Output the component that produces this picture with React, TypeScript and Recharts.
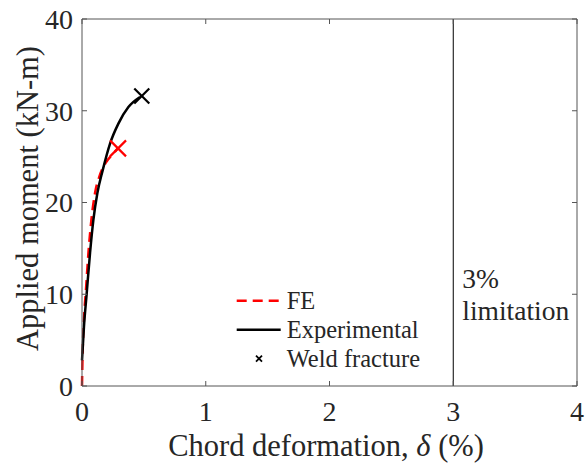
import React from 'react';
import {
  ComposedChart,
  Line,
  Scatter,
  XAxis,
  YAxis,
  ReferenceLine,
  Legend,
} from 'recharts';

// FE model curve (chord deformation %, moment kN-m)
const feDelta = [0, 0.004, 0.015, 0.032, 0.052, 0.075, 0.105, 0.145, 0.2, 0.25, 0.29];
const feMoment = [0, 3, 7, 10.5, 14.5, 18, 21, 23, 24.5, 25.3, 25.9];

// experimental curve
const expDelta = [0, 0.016, 0.038, 0.065, 0.092, 0.124, 0.167, 0.226, 0.294, 0.375, 0.469];
const expMoment = [2.8, 6.5, 10.1, 14.5, 18.1, 21.0, 23.5, 26.4, 28.6, 30.4, 31.5];

// weld fracture points
const feFracture = [{ x: 0.291, y: 25.9 }];
const expFracture = [{ x: 0.483, y: 31.6 }];

const xTicks = [0, 1, 2, 3, 4];
const yTicks = [0, 10, 20, 30, 40];
const limitValue = 3;
const limitText = ['3%', 'limitation'];
const legendOrder = ['FE', 'Experimental', 'Weld fracture'];

const feData = feDelta.map((x, i) => ({ x, y: feMoment[i] }));
const expData = expDelta.map((x, i) => ({ x, y: expMoment[i] }));

const X_MAX = 4;
const Y_MAX = 40;
const TOP = 19;

const FONT = '"Liberation Serif", "Times New Roman", serif';
const AXIS = '#555555';
const TEXT = '#262626';

const xMark = (half: number, color: string, width: number) => (props: any) => {
  const { cx, cy } = props;
  if (cx == null || cy == null) return <g />;
  return (
    <g stroke={color} strokeWidth={width}>
      <line x1={cx - half} y1={cy - half} x2={cx + half} y2={cy + half} />
      <line x1={cx - half} y1={cy + half} x2={cx + half} y2={cy - half} />
    </g>
  );
};

const LimitLabel = (props: any) => {
  const vb = props.viewBox || {};
  return (
    <text fontFamily={FONT} fontSize={27.5} fill={TEXT}>
      <tspan x={vb.x + 9} y={vb.y + 269}>{limitText[0]}</tspan>
      <tspan x={vb.x + 9} y={vb.y + 301}>{limitText[1]}</tspan>
    </text>
  );
};

// x-axis title, plus the top and right edges of the box (MATLAB style)
const XLabel = (props: any) => {
  const vb = props.viewBox || {};
  const left = vb.x;
  const right = vb.x + vb.width;
  const bottom = vb.y;
  const plotH = bottom - TOP;
  return (
    <g>
      <g stroke={AXIS} strokeWidth={1} fill="none">
        <path d={`M${left},${TOP}H${right}V${bottom}`} />
        {xTicks.map((t) => {
          const px = left + (vb.width * t) / X_MAX;
          return <line key={`tt-${t}`} x1={px} x2={px} y1={TOP} y2={TOP + 5} />;
        })}
        {yTicks.map((t) => {
          const py = bottom - (plotH * t) / Y_MAX;
          return <line key={`rt-${t}`} x1={right} x2={right - 5} y1={py} y2={py} />;
        })}
      </g>
      <text
        x={vb.x + vb.width / 2 - 3.5}
        y={vb.y + 70}
        textAnchor="middle"
        fontFamily={FONT}
        fontSize={30.5}
        fill={TEXT}
      >
        Chord deformation, <tspan fontStyle="italic">δ</tspan> (%)
      </text>
    </g>
  );
};

const YLabel = (props: any) => {
  const vb = props.viewBox || {};
  const cx = 38;
  const cy = vb.y + vb.height / 2 - 4;
  return (
    <text
      x={cx}
      y={cy}
      transform={`rotate(-90 ${cx} ${cy})`}
      textAnchor="middle"
      fontFamily={FONT}
      fontSize={30.5}
      fill={TEXT}
    >
      Applied moment (kN-m)
    </text>
  );
};

const LegendBox = (props: any) => {
  const items = (props.payload || [])
    .filter((p: any) => legendOrder.includes(p.value))
    .sort((a: any, b: any) => legendOrder.indexOf(a.value) - legendOrder.indexOf(b.value));
  return (
    <svg width={200} height={95} style={{ display: 'block' }}>
      {items.map((item: any, i: number) => {
        const base = 24.3 + 29 * i;
        const ly = base - 8.6;
        let icon;
        if (item.type === 'line') {
          icon = (
            <line
              x1={6.7}
              x2={50.7}
              y1={ly}
              y2={ly}
              stroke={item.color}
              strokeWidth={2.5}
              strokeDasharray={item.payload?.strokeDasharray}
            />
          );
        } else {
          icon = (
            <g stroke="#000" strokeWidth={1.8}>
              <line x1={26} y1={ly - 3} x2={32} y2={ly + 3} />
              <line x1={26} y1={ly + 3} x2={32} y2={ly - 3} />
            </g>
          );
        }
        return (
          <g key={`leg-${i}`}>
            {icon}
            <text x={56.7} y={base} fontFamily={FONT} fontSize={24.5} fill={TEXT}>
              {item.value}
            </text>
          </g>
        );
      })}
    </svg>
  );
};

export default function App() {
  const tickStyle = { fontFamily: FONT, fontSize: 28, fill: TEXT };
  return (
    <div style={{ position: 'absolute', left: 0, top: 0, background: '#fff' }}>
      <ComposedChart width={587} height={466} margin={{ top: TOP, right: 10, left: 0, bottom: 0 }}>
        <XAxis
          dataKey="x"
          type="number"
          domain={[0, X_MAX]}
          ticks={xTicks}
          interval={0}
          height={80}
          stroke={AXIS}
          tickSize={-5}
          tickMargin={20}
          tick={tickStyle}
          label={<XLabel />}
        />
        <YAxis
          type="number"
          domain={[0, Y_MAX]}
          ticks={yTicks}
          interval={0}
          width={82}
          stroke={AXIS}
          tickSize={-5}
          tickMargin={14}
          tick={tickStyle}
          label={<YLabel />}
        />
        <ReferenceLine x={limitValue} stroke="#000" strokeWidth={1} label={<LimitLabel />} />
        <Legend
          layout="horizontal"
          verticalAlign="middle"
          align="center"
          wrapperStyle={{ position: 'absolute', left: 230, top: 285, width: 200, height: 95 }}
          content={<LegendBox />}
        />
        <Line
          data={feData}
          dataKey="y"
          name="FE"
          type="monotone"
          stroke="#ff0000"
          strokeWidth={2.5}
          strokeDasharray="10 6"
          dot={false}
          legendType="line"
          isAnimationActive={false}
        />
        <Line
          data={expData}
          dataKey="y"
          name="Experimental"
          type="monotone"
          stroke="#000000"
          strokeWidth={2.5}
          dot={false}
          legendType="line"
          isAnimationActive={false}
        />
        <Scatter
          data={feFracture}
          dataKey="y"
          name="FE fracture"
          fill="#ff0000"
          legendType="none"
          shape={xMark(8, '#ff0000', 2.2)}
          isAnimationActive={false}
        />
        <Scatter
          data={expFracture}
          dataKey="y"
          name="Weld fracture"
          fill="#000000"
          legendType="cross"
          shape={xMark(7.5, '#000000', 2.2)}
          isAnimationActive={false}
        />
      </ComposedChart>
    </div>
  );
}
